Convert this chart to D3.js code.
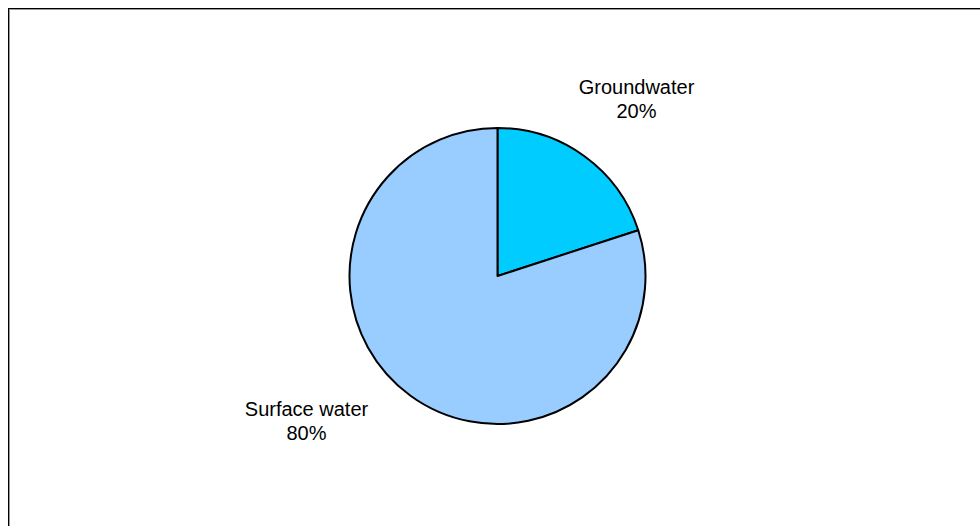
<!DOCTYPE html>
<html>
<head>
<meta charset="utf-8">
<script src="https://cdn.jsdelivr.net/npm/d3@7"></script>
<style>
  html, body { margin: 0; padding: 0; background: #fff; }
  svg { display: block; }
  text { font-family: "Liberation Sans", Arial, sans-serif; font-size: 20px; fill: #000; }
</style>
</head>
<body>
<script>
'use strict';

const categories = ['Groundwater', 'Surface water'];
const shares = [20, 80];
const colours = ['#00ccff', '#99ccff'];

// label placement (pixels from pie centre), like Excel's best fit
const labelSpots = [{x: 139, y: -182}, {x: -191, y: 140}];

const width = 980, height = 526;
const centre = {x: 497.5, y: 276};
const radius = 148;

const svg = d3.select('body')
    .append('svg')
    .attr('width', width)
    .attr('height', height);

// chart frame, runs off the right and bottom
svg.append('rect')
    .attr('x', 9.5).attr('y', 9.5)
    .attr('width', width + 20).attr('height', height + 20)
    .attr('fill', 'none')
    .attr('stroke', '#999');
svg.append('rect')
    .attr('x', 8.5).attr('y', 8.5)
    .attr('width', width + 20).attr('height', height + 20)
    .attr('fill', 'none')
    .attr('stroke', '#000');

const slices = categories.map((c, i) => ({name: c, value: shares[i], colour: colours[i], spot: labelSpots[i]}));

const pie = d3.pie()
    .sort(null)
    .value(d => d.value);

const arc = d3.arc()
    .innerRadius(0)
    .outerRadius(radius);

const g = svg.append('g')
    .attr('transform', `translate(${centre.x},${centre.y})`);

g.selectAll('path')
    .data(pie(slices))
    .enter()
    .append('path')
    .attr('d', arc)
    .attr('fill', d => d.data.colour)
    .attr('stroke', '#000')
    .attr('stroke-width', 2)
    .attr('stroke-linejoin', 'round');

let labels = g.selectAll('text')
    .data(pie(slices))
    .enter()
    .append('text')
    .attr('text-anchor', 'middle')
    .attr('transform', d => `translate(${d.data.spot.x},${d.data.spot.y})`);

labels.append('tspan')
    .attr('x', 0)
    .attr('dy', 0)
    .text(d => d.data.name);

labels.append('tspan')
    .attr('x', 0)
    .attr('dy', 23.5)
    .text(d => d.data.value + '%');
</script>
</body>
</html>
